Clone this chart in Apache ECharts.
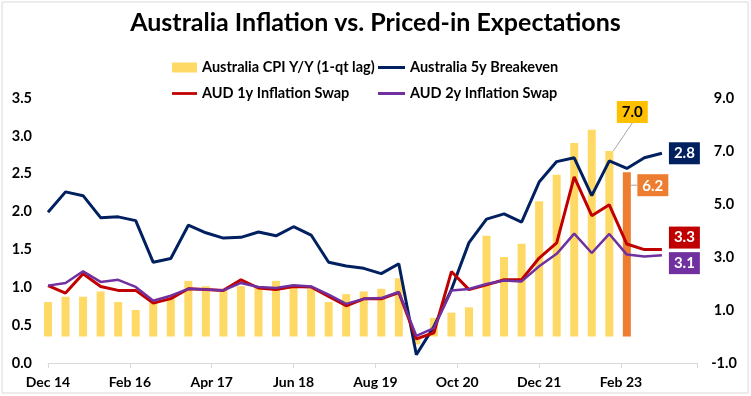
<!DOCTYPE html>
<html>
<head>
<meta charset="utf-8">
<script src="https://cdn.jsdelivr.net/npm/echarts@6/dist/echarts.min.js"></script>
<style>
  html, body { margin: 0; padding: 0; background: #fff; }
  #chart { width: 751px; height: 396px; }
</style>
</head>
<body>
<div id="chart"></div>
<script>
// quarterly readings, Dec 14 .. Sep 23
var breakeven5y = [1.99, 2.26, 2.21, 1.92, 1.93, 1.88, 1.33, 1.38, 1.82, 1.72, 1.65, 1.66,
  1.73, 1.68, 1.80, 1.69, 1.33, 1.28, 1.25, 1.18, 1.31, 0.11, 0.48, 0.97,
  1.59, 1.90, 1.97, 1.86, 2.39, 2.66, 2.71, 2.21, 2.67, 2.57, 2.71, 2.77];
var swap1y = [1.92, 1.64, 2.37, 1.89, 1.74, 1.74, 1.26, 1.43, 1.80, 1.77, 1.74, 2.14,
  1.83, 1.77, 1.89, 1.87, 1.51, 1.16, 1.42, 1.42, 1.66, -0.09, 0.14, 2.45,
  1.77, 1.95, 2.14, 2.14, 2.96, 3.53, 6.02, 4.56, 4.97, 3.49, 3.28, 3.28];
var swap2y = [1.92, 2.02, 2.46, 2.06, 2.14, 1.87, 1.35, 1.54, 1.80, 1.77, 1.74, 2.02,
  1.87, 1.83, 1.93, 1.89, 1.58, 1.23, 1.42, 1.45, 1.68, 0.02, 0.32, 1.74,
  1.79, 1.98, 2.11, 2.08, 2.65, 3.12, 3.88, 3.15, 3.87, 3.09, 3.02, 3.07];
// CPI y/y (1-qt lag), Dec 14 .. Dec 22
var cpiYoY = [1.3, 1.5, 1.5, 1.7, 1.3, 1.0, 1.3, 1.5, 2.1, 1.9, 1.8, 1.9, 1.9, 2.1, 1.9, 1.8,
  1.3, 1.6, 1.7, 1.8, 2.2, -0.3, 0.7, 0.9, 1.1, 3.8, 3.0, 3.5, 5.1, 6.1, 7.3, 7.8, 7.0];
// latest print, Mar 23
var cpiLatest = [6.2];

var monthNames = ['Jan', 'Feb', 'Mar', 'Apr', 'May', 'Jun', 'Jul', 'Aug', 'Sep', 'Oct', 'Nov', 'Dec'];
var startYear = 2014, startMonth = 11, monthCount = 112, labelStep = 14;

var months = [];
for (var i = 0; i < monthCount; i++) {
  var m = startMonth + i;
  months.push(monthNames[m % 12] + ' ' + String(startYear + Math.floor(m / 12)).slice(2));
}

// put quarterly values on the monthly axis
function toMonthly(values, offset) {
  var out = [];
  values.forEach(function (v, k) { out[offset + k * 3] = v; });
  for (var j = 0; j < out.length; j++) if (out[j] === undefined) out[j] = null;
  return out;
}

var FONT = 'Lato';
var NAVY = '#002060', RED = '#C00000', PURPLE = '#7030A0', GOLD = '#FFD966', ORANGE = '#ED7D31';
var LINE_ICON = 'path://M0,0H27V3H0Z';

var cpiData = toMonthly(cpiYoY, 0);
var lastCpi = cpiData.length - 1;
cpiData[lastCpi] = {
  value: cpiData[lastCpi],
  label: { show: true, backgroundColor: '#FFC000', color: '#000' }
};
var latestData = toMonthly(cpiLatest, cpiYoY.length * 3);
latestData[latestData.length - 1] = {
  value: latestData[latestData.length - 1],
  label: { show: true, backgroundColor: ORANGE, color: '#fff' }
};

function endLabel(color, dy) {
  return {
    show: true,
    distance: 7,
    offset: [0, dy],
    backgroundColor: color,
    color: '#fff',
    padding: [4, 5, 3, 5],
    fontFamily: FONT,
    fontWeight: 'bold',
    fontSize: 15,
    formatter: function (p) { return Number(p.value).toFixed(1); }
  };
}

var barLabel = {
  position: 'top',
  distance: 5,
  padding: [4, 5, 3, 5],
  fontFamily: FONT,
  fontWeight: 'bold',
  fontSize: 15,
  formatter: function (p) { return Number(p.value).toFixed(1); }
};

var legendText = { fontFamily: FONT, fontWeight: 'bold', fontSize: 14.5, color: '#000' };

var chart = echarts.init(document.getElementById('chart'));
chart.setOption({
  animation: false,
  title: {
    text: 'Australia Inflation vs. Priced-in Expectations',
    left: 'center',
    top: 5,
    textStyle: { fontFamily: FONT, fontWeight: 'bold', fontSize: 25, color: '#000' }
  },
  graphic: [{
    type: 'rect',
    shape: { x: 2, y: 2, width: 746, height: 391 },
    style: { fill: 'none', stroke: '#d9d9d9', lineWidth: 1 }
  }],
  legend: [{
    orient: 'vertical',
    left: 172,
    top: 60,
    padding: 0,
    itemGap: 11,
    itemWidth: 25,
    itemHeight: 10,
    textStyle: legendText,
    data: [{ name: 'Australia CPI Y/Y (1-qt lag)', icon: 'rect' },
      { name: 'AUD 1y Inflation Swap', icon: LINE_ICON }]
  }, {
    orient: 'vertical',
    left: 378,
    top: 60,
    padding: 0,
    itemGap: 11,
    itemWidth: 27,
    itemHeight: 10,
    textStyle: legendText,
    data: [{ name: 'Australia 5y Breakeven', icon: LINE_ICON },
      { name: 'AUD 2y Inflation Swap', icon: LINE_ICON }]
  }],
  grid: { left: 48, right: 54, top: 98, bottom: 33 },
  xAxis: {
    type: 'category',
    data: months,
    boundaryGap: false,
    axisLine: { lineStyle: { color: '#d9d9d9' } },
    axisTick: {
      length: 5,
      lineStyle: { color: '#d9d9d9' },
      interval: function (idx) { return idx % labelStep === 0 || idx === monthCount - 1; }
    },
    axisLabel: {
      interval: function (idx) { return idx % labelStep === 0; },
      margin: 12,
      fontFamily: FONT, fontWeight: 'bold', fontSize: 14, color: '#000'
    },
    splitLine: { show: false }
  },
  yAxis: [{
    type: 'value',
    min: 0, max: 3.5, interval: 0.5,
    axisLine: { show: false },
    axisTick: { show: false },
    splitLine: { show: false },
    axisLabel: {
      margin: 16,
      fontFamily: FONT, fontWeight: 'bold', fontSize: 14.5, color: '#000',
      formatter: function (v) { return v.toFixed(1); }
    }
  }, {
    type: 'value',
    min: -1, max: 9, interval: 2,
    axisLine: { show: false },
    axisTick: { show: false },
    splitLine: { show: false },
    axisLabel: {
      margin: 27,
      align: 'center',
      fontFamily: FONT, fontWeight: 'bold', fontSize: 14.5, color: '#000',
      formatter: function (v) { return v.toFixed(1); }
    }
  }],
  series: [{
    name: 'Australia CPI Y/Y (1-qt lag)',
    type: 'bar',
    yAxisIndex: 1,
    barWidth: 8,
    barGap: '-100%',
    itemStyle: { color: GOLD },
    label: barLabel,
    labelLayout: { dx: 23, dy: -23 },
    labelLine: { show: true, lineStyle: { color: '#a6a6a6', width: 1 } },
    data: cpiData
  }, {
    name: 'CPI latest',
    type: 'bar',
    yAxisIndex: 1,
    barWidth: 8,
    barGap: '-100%',
    itemStyle: { color: ORANGE },
    label: barLabel,
    labelLayout: { dx: 26, dy: 29 },
    labelLine: { show: true, lineStyle: { color: '#a6a6a6', width: 1 } },
    data: latestData
  }, {
    name: 'Australia 5y Breakeven',
    type: 'line',
    yAxisIndex: 0,
    symbol: 'none',
    connectNulls: true,
    lineStyle: { color: NAVY, width: 3 },
    itemStyle: { color: NAVY },
    endLabel: endLabel(NAVY, 0),
    data: toMonthly(breakeven5y, 0)
  }, {
    name: 'AUD 1y Inflation Swap',
    type: 'line',
    yAxisIndex: 1,
    symbol: 'none',
    connectNulls: true,
    lineStyle: { color: RED, width: 3 },
    itemStyle: { color: RED },
    endLabel: endLabel(RED, -12),
    data: toMonthly(swap1y, 0)
  }, {
    name: 'AUD 2y Inflation Swap',
    type: 'line',
    yAxisIndex: 1,
    symbol: 'none',
    connectNulls: true,
    lineStyle: { color: PURPLE, width: 2.5 },
    itemStyle: { color: PURPLE },
    endLabel: endLabel(PURPLE, 8),
    data: toMonthly(swap2y, 0)
  }]
});
</script>
</body>
</html>
